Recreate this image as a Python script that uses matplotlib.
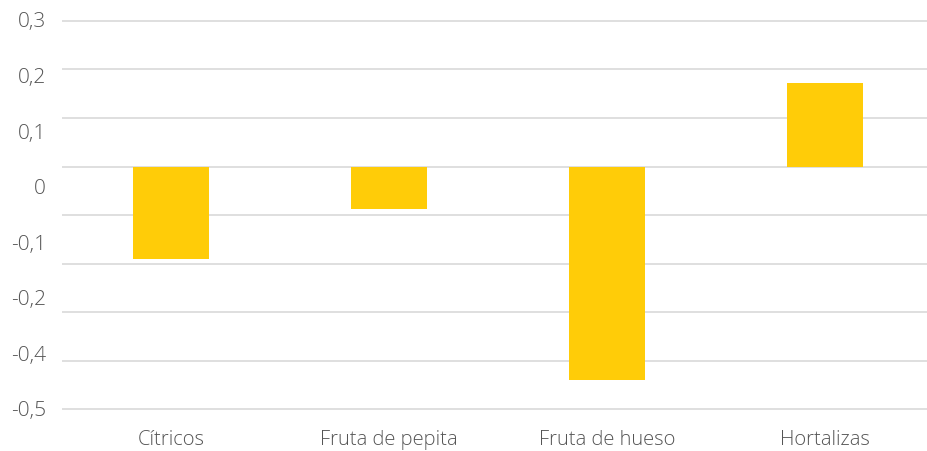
import numpy as np
import matplotlib.pyplot as plt

categories = ["Cítricos", "Fruta de pepita", "Fruta de hueso", "Hortalizas"]
values = [-0.19, -0.087, -0.44, 0.173]
grid_values = [0.3, 0.2, 0.1, 0.0, -0.1, -0.2, -0.3, -0.4, -0.5]
y_labels = ["0,3", "0,2", "0,1", "0", "-0,1", "-0,2", "-0,4", "-0,5"]

plt.rcParams['font.family'] = ['Open Sans', 'DejaVu Sans']

W, H = 927, 451
fig = plt.figure(figsize=(W / 100, H / 100), dpi=100)

# axes placed in pixel terms; right edge runs slightly past the figure
left, right, top, bottom = 62, 934, 15, 415
ax = fig.add_axes([left / W, 1 - bottom / H, (right - left) / W, (bottom - top) / H])

x = np.arange(len(categories))
ax.bar(x, values, width=0.353, color="#FFCC08", zorder=3)

scale = 485.0
ax.set_ylim(-0.5 - 6 / scale, 0.3 + 6 / scale)
ax.set_xlim(-0.5, 3.5)

ax.set_yticks(grid_values)
ax.set_yticklabels([])
ax.tick_params(axis='y', length=0)
ax.grid(axis='y', color="#d9d9d9", linewidth=1.2, zorder=0)

ax.set_xticks(x)
ax.set_xticklabels(categories, fontsize=14.5, color="#555555", fontweight='light')
ax.tick_params(axis='x', length=0, pad=11)

for s in ax.spines.values():
    s.set_visible(False)

# y labels sit on their own even spacing, not on the gridlines
label_pos = np.linspace(0.297, -0.505, len(y_labels))
for yv, lab in zip(label_pos, y_labels):
    ax.text(-0.5 - 16 / 218, yv, lab, ha='right', va='center', fontsize=15,
            color="#555555", fontweight='light', transform=ax.transData, clip_on=False)

fig.savefig("out.png", dpi=100)
